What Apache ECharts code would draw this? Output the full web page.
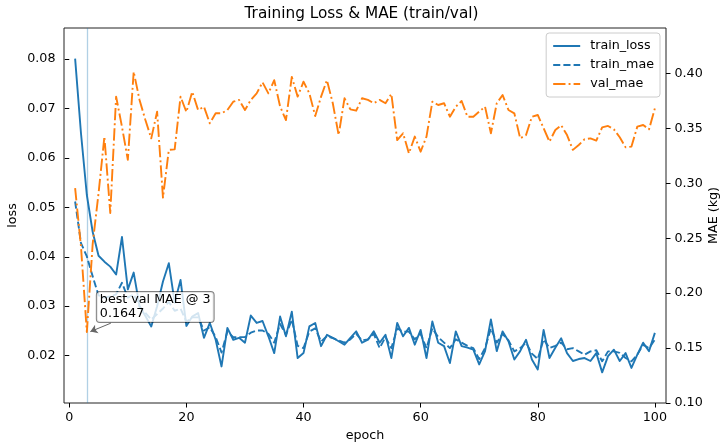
<!DOCTYPE html>
<html><head><meta charset="utf-8">
<script src="https://cdn.jsdelivr.net/npm/echarts@6/dist/echarts.min.js"></script>
<style>html,body{margin:0;padding:0;background:#fff}#c{width:723px;height:445px}</style>
</head><body><div id="c"></div>
<script>
const epochs = [1,2,3,4,5,6,7,8,9,10,11,12,13,14,15,16,17,18,19,20,
 21,22,23,24,25,26,27,28,29,30,31,32,33,34,35,36,37,38,39,40,
 41,42,43,44,45,46,47,48,49,50,51,52,53,54,55,56,57,58,59,60,
 61,62,63,64,65,66,67,68,69,70,71,72,73,74,75,76,77,78,79,80,
 81,82,83,84,85,86,87,88,89,90,91,92,93,94,95,96,97,98,99,100];
const trainLoss = [0.0801,0.065,0.0525,0.045,0.0402,0.039,0.038,0.0364,0.044,0.0334,
 0.0368,0.030,0.028,0.0259,0.030,0.035,0.0387,0.0307,0.0353,0.026,
 0.0279,0.0286,0.0236,0.0266,0.0232,0.0178,0.0256,0.0232,0.0236,0.0226,
 0.0281,0.0266,0.027,0.0239,0.0205,0.0279,0.0239,0.0289,0.0195,0.0205,
 0.0259,0.0266,0.0219,0.0242,0.0236,0.0229,0.0222,0.0236,0.0249,0.0226,
 0.0232,0.0249,0.0226,0.0242,0.0195,0.0266,0.0239,0.0256,0.0222,0.0252,
 0.0195,0.0269,0.0226,0.0219,0.0185,0.0249,0.0219,0.0216,0.0212,0.0182,
 0.0209,0.0273,0.0209,0.0249,0.0229,0.0192,0.0209,0.0232,0.0192,0.0172,
 0.0252,0.0195,0.0216,0.0235,0.0205,0.0189,0.0193,0.0195,0.0189,0.0205,
 0.0166,0.0199,0.0212,0.0189,0.0205,0.0175,0.0202,0.0226,0.0209,0.0246];
const trainMae = [0.2835,0.2456,0.2335,0.2153,0.198,0.196,0.197,0.199,0.2095,0.196,
 0.199,0.188,0.182,0.176,0.181,0.186,0.192,0.184,0.186,0.174,
 0.178,0.178,0.166,0.169,0.160,0.146,0.165,0.160,0.160,0.160,
 0.164,0.166,0.166,0.163,0.155,0.172,0.162,0.176,0.152,0.150,
 0.165,0.168,0.156,0.161,0.159,0.157,0.155,0.158,0.163,0.157,
 0.158,0.163,0.150,0.160,0.150,0.168,0.165,0.165,0.158,0.163,
 0.150,0.168,0.160,0.155,0.150,0.158,0.155,0.152,0.150,0.140,
 0.150,0.168,0.155,0.163,0.157,0.147,0.150,0.155,0.145,0.140,
 0.158,0.150,0.152,0.155,0.149,0.150,0.147,0.144,0.147,0.148,
 0.138,0.147,0.147,0.1457,0.141,0.138,0.144,0.153,0.150,0.1577];
const valMae = [0.2956,0.2425,0.1647,0.245,0.291,0.3426,0.273,0.379,0.3516,0.3214,
 0.4017,0.376,0.3577,0.341,0.3653,0.287,0.3305,0.331,0.379,0.365,
 0.3835,0.3668,0.3698,0.3547,0.3638,0.3638,0.3668,0.3744,0.376,0.3668,
 0.376,0.382,0.392,0.382,0.394,0.370,0.3577,0.397,0.379,0.3926,
 0.382,0.3614,0.379,0.394,0.373,0.344,0.3775,0.3674,0.3662,0.3775,
 0.376,0.373,0.376,0.373,0.3814,0.3395,0.3456,0.3274,0.3426,0.3289,
 0.3426,0.3744,0.3714,0.373,0.3607,0.3698,0.375,0.3607,0.3607,0.3653,
 0.3698,0.3456,0.373,0.3805,0.3668,0.3638,0.341,0.344,0.3607,0.3623,
 0.3502,0.338,0.3486,0.353,0.344,0.3305,0.335,0.3402,0.341,0.339,
 0.351,0.3523,0.3492,0.342,0.3329,0.3335,0.3517,0.3532,0.3492,0.3683];
const xTicks = [0,20,40,60,80,100];
const lossTicks = [0.02,0.03,0.04,0.05,0.06,0.07,0.08];
const maeTicks = [0.10,0.15,0.20,0.25,0.30,0.35,0.40];

const FONT = 'DejaVu Sans';
const BLUE = '#1f77b4', ORANGE = '#ff7f0e';
let bestIdx = 0;
valMae.forEach((v,i)=>{ if (v < valMae[bestIdx]) bestIdx = i; });
const bestEpoch = epochs[bestIdx], bestVal = valMae[bestIdx];

const pairs = arr => epochs.map((e,i)=>[e, arr[i]]);
const tickStyle = {show:true, inside:false, length:4.5, lineStyle:{color:'#000', width:1}};
const labelStyle = {color:'#000', fontSize:12.7, fontFamily:FONT, margin:8.5};

const chart = echarts.init(document.getElementById('c'), null, {renderer:'canvas'});
chart.setOption({
  animation:false,
  backgroundColor:'#fff',
  textStyle:{fontFamily:FONT},
  title:{text:'Training Loss & MAE (train/val)', left:'center', top:7, padding:[0,0,0,7],
    textStyle:{fontSize:15.3, fontWeight:'normal', color:'#000', fontFamily:FONT}},
  grid:{left:64, right:57, top:28, bottom:42, show:true, borderColor:'#222', borderWidth:1,
    containLabel:false, outerBoundsMode:'none'},
  legend:{orient:'vertical', right:63, top:33, itemWidth:27, itemHeight:14, itemGap:6,
    padding:[6.5,6,6.5,6], backgroundColor:'rgba(255,255,255,0.8)', borderColor:'#cccccc',
    borderWidth:1, borderRadius:3, itemStyle:{opacity:0},
    textStyle:{fontSize:12.7, color:'#000', fontFamily:FONT, padding:[0,0,0,5]},
    data:['train_loss','train_mae','val_mae']},
  xAxis:{type:'value', min:-0.9, max:101.9, name:'epoch', nameLocation:'middle', nameGap:26,
    nameMoveOverlap:false,
    nameTextStyle:{fontSize:12.7, color:'#000', fontFamily:FONT},
    axisLine:{show:false}, splitLine:{show:false},
    axisTick:Object.assign({customValues:xTicks}, tickStyle),
    axisLabel:Object.assign({customValues:xTicks, formatter:v=>String(v)}, labelStyle)},
  yAxis:[
    {type:'value', position:'left', min:0.0104, max:0.0863, name:'loss', nameLocation:'middle', nameGap:45,
      nameMoveOverlap:false,
      nameTextStyle:{fontSize:12.7, color:'#000', fontFamily:FONT},
      axisLine:{show:false}, splitLine:{show:false},
      axisTick:Object.assign({customValues:lossTicks}, tickStyle),
      axisLabel:Object.assign({customValues:lossTicks, formatter:v=>v.toFixed(2)}, labelStyle)},
    {type:'value', position:'right', min:0.10, max:0.4415, name:'MAE (kg)', nameLocation:'middle', nameGap:41,
      nameMoveOverlap:false,
      nameTextStyle:{fontSize:12.7, color:'#000', fontFamily:FONT},
      axisLine:{show:false}, splitLine:{show:false},
      axisTick:Object.assign({customValues:maeTicks}, tickStyle),
      axisLabel:Object.assign({customValues:maeTicks, formatter:v=>v.toFixed(2)}, labelStyle)}
  ],
  series:[
    {name:'train_loss', type:'line', yAxisIndex:0, data:pairs(trainLoss), symbol:'none', showSymbol:false,
      color:BLUE, lineStyle:{color:BLUE, width:1.9, join:'round'}, z:2,
      markLine:{silent:true, symbol:['none','none'], z:1, label:{show:false},
        lineStyle:{color:'rgba(31,119,180,0.35)', width:1.3, type:'solid'},
        data:[{xAxis:bestEpoch}]}},
    {name:'train_mae', type:'line', yAxisIndex:1, data:pairs(trainMae), symbol:'none', showSymbol:false,
      color:BLUE, lineStyle:{color:BLUE, width:1.9, type:[7.1,3.1], join:'round'}, z:3},
    {name:'val_mae', type:'line', yAxisIndex:1, data:pairs(valMae), symbol:'none', showSymbol:false,
      color:ORANGE, lineStyle:{color:ORANGE, width:1.9, type:[12.3,3.1,1.9,3.1], join:'round'}, z:3,
      markLine:{silent:true, symbol:['none','arrow'], symbolSize:7, label:{show:false},
        lineStyle:{color:'#666', width:1, type:'solid'},
        data:[[{coord:[bestEpoch+4.1, bestVal+0.008]},{coord:[bestEpoch+0.6, bestVal+0.0003]}]]},
      markPoint:{silent:true, z:6,
        data:[{coord:[bestEpoch, bestVal], symbol:'circle', symbolSize:1,
          itemStyle:{color:'rgba(0,0,0,0)'},
          label:{show:true, position:[10.5,-39.5], align:'left', verticalAlign:'top',
            formatter:'best val MAE @ ' + bestEpoch + '\n' + bestVal.toFixed(4),
            fontSize:12.7, lineHeight:14, color:'#000', fontFamily:FONT,
            backgroundColor:'rgba(255,255,255,0.8)', borderColor:'rgba(0,0,0,0.5)', borderWidth:1,
            borderRadius:3, padding:[1,3,1,3]}}]}}
  ]
});
</script></body></html>
